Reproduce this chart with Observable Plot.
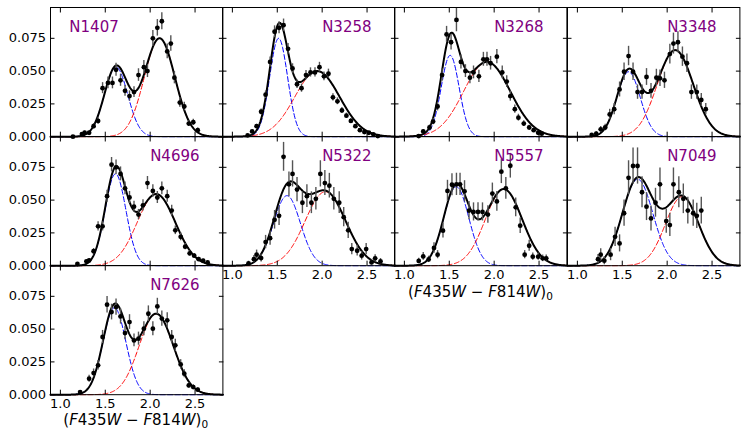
<!DOCTYPE html>
<html><head><meta charset="utf-8">
<script src="https://cdn.jsdelivr.net/npm/d3@7"></script>
<script src="https://cdn.jsdelivr.net/npm/@observablehq/plot@0.6"></script>
<style>
body{margin:0;background:#fff;}
#fig{position:relative;width:747px;height:438px;font-family:"DejaVu Sans",sans-serif;overflow:hidden;}
#fig svg{position:absolute;}
.xlabel{position:absolute;font-size:15px;line-height:12px;white-space:nowrap;transform:translateX(-50%);color:#000;}
.xlabel i{font-style:italic;}
.xlabel sub{font-size:70%;vertical-align:-0.3em;line-height:0;}
</style></head><body><div id="fig"></div>
<script>
// ---- data ----
const clusters = ["N1407","N3258","N3268","N3348","N4696","N5322","N5557","N7049","N7626"];
const xTicks = [1.0, 1.5, 2.0, 2.5];
const yTicks = [0, 0.025, 0.05, 0.075];

// Gaussian fit parameters (blue = first, red = second component)
const blueMu  = [1.62, 1.515, 1.51, 1.57, 1.614, 1.608, 1.578, 1.671, 1.602];
const blueSig = [0.13, 0.10, 0.10, 0.13, 0.116, 0.15, 0.14, 0.169, 0.128];
const blueAmp = [0.053, 0.075, 0.062, 0.0495, 0.070, 0.0534, 0.0602, 0.066, 0.0663];
const redMu   = [2.105, 1.945, 1.92, 2.09, 2.068, 2.036, 2.107, 2.166, 2.068];
const redSig  = [0.17, 0.25, 0.26, 0.20, 0.212, 0.225, 0.205, 0.185, 0.19];
const redAmp  = [0.075, 0.050, 0.057, 0.066, 0.0546, 0.0564, 0.0584, 0.0526, 0.0617];

const n1407X = [1.14,1.24,1.27,1.32,1.37,1.42,1.47,1.53,1.58,1.62,1.67,1.72,1.77,1.82,1.87,1.93,1.97,2.03,2.08,2.13,2.19,2.23,2.27,2.33,2.38,2.43,2.48,2.53];
const n1407Y = [0.000,0.002,0.003,0.003,0.008,0.012,0.037,0.041,0.041,0.051,0.043,0.035,0.031,0.034,0.047,0.053,0.050,0.075,0.083,0.088,0.065,0.071,0.045,0.026,0.023,0.010,0.011,0.005];
const n1407E = [0.0005,0.001,0.0012,0.0012,0.002,0.0025,0.0042,0.0045,0.0045,0.005,0.0046,0.0041,0.0039,0.0041,0.0048,0.0051,0.0049,0.006,0.0063,0.0065,0.0056,0.0059,0.0047,0.0036,0.0033,0.0022,0.0023,0.0016];

const n3258X = [1.17,1.22,1.27,1.32,1.37,1.42,1.47,1.52,1.57,1.62,1.67,1.72,1.77,1.82,1.87,1.92,1.97,2.02,2.07,2.12,2.17,2.22,2.27,2.32,2.37,2.42,2.47,2.52,2.57,2.62];
const n3258Y = [0.001,0.004,0.008,0.019,0.032,0.057,0.080,0.083,0.085,0.067,0.052,0.040,0.037,0.047,0.049,0.049,0.053,0.046,0.048,0.030,0.027,0.020,0.016,0.012,0.008,0.005,0.0035,0.003,0.0018,0.0005];
const n3258E = [0.0005,0.001,0.0014,0.0022,0.0029,0.0038,0.0045,0.0046,0.0047,0.0041,0.0036,0.0032,0.0031,0.0035,0.0035,0.0035,0.0037,0.0034,0.0035,0.0028,0.0026,0.0023,0.002,0.0018,0.0014,0.0011,0.001,0.0009,0.0007,0.0004];

const n3268X = [1.16,1.21,1.28,1.32,1.37,1.42,1.47,1.52,1.58,1.63,1.68,1.73,1.77,1.83,1.88,1.92,1.96,2.03,2.09,2.14,2.18,2.23,2.27,2.33,2.39,2.44,2.49,2.53];
const n3268Y = [0.0005,0.004,0.007,0.0115,0.023,0.047,0.078,0.072,0.089,0.057,0.050,0.045,0.049,0.046,0.059,0.059,0.056,0.061,0.049,0.042,0.031,0.021,0.0145,0.010,0.007,0.005,0.003,0.0023];
const n3268E = [0.0005,0.0014,0.0018,0.0024,0.0033,0.0048,0.0061,0.0059,0.009,0.0053,0.0049,0.0047,0.0049,0.0047,0.0053,0.0053,0.0052,0.0054,0.0049,0.0045,0.0039,0.0032,0.0026,0.0022,0.0018,0.0016,0.0012,0.0011];

const n3348X = [1.16,1.21,1.26,1.31,1.36,1.41,1.47,1.52,1.57,1.62,1.67,1.72,1.77,1.82,1.88,1.92,1.97,2.03,2.07,2.12,2.17,2.22,2.27,2.33,2.38,2.43];
const n3348Y = [0.0013,0.0023,0.0056,0.007,0.017,0.021,0.036,0.0495,0.0615,0.0495,0.034,0.034,0.0455,0.035,0.045,0.0445,0.043,0.063,0.071,0.072,0.061,0.056,0.034,0.034,0.028,0.021];
const n3348E = [0.0011,0.0014,0.0022,0.0025,0.0039,0.0043,0.0057,0.0067,0.0074,0.0067,0.0055,0.0055,0.0064,0.0056,0.0064,0.0063,0.0062,0.0075,0.008,0.008,0.0074,0.0071,0.0055,0.0055,0.005,0.0043];

const n4696X = [1.19,1.29,1.32,1.37,1.42,1.47,1.52,1.57,1.62,1.67,1.72,1.77,1.82,1.87,1.92,1.97,2.03,2.08,2.13,2.19,2.24,2.28,2.34,2.39,2.44,2.49,2.54,2.59,2.64];
const n4696Y = [0.0013,0.0033,0.004,0.011,0.030,0.030,0.053,0.077,0.075,0.070,0.059,0.052,0.045,0.039,0.046,0.063,0.057,0.052,0.059,0.053,0.042,0.027,0.022,0.0145,0.0094,0.0076,0.005,0.0038,0.0025];
const n4696E = [0.0007,0.0011,0.0013,0.0021,0.0035,0.0035,0.0046,0.0055,0.0055,0.0053,0.0049,0.0046,0.0042,0.0039,0.0043,0.005,0.0048,0.0046,0.0049,0.0046,0.0041,0.0033,0.003,0.0024,0.0019,0.0017,0.0014,0.0012,0.001];

const n5322X = [1.18,1.24,1.27,1.32,1.37,1.42,1.47,1.52,1.57,1.63,1.67,1.72,1.78,1.83,1.88,1.93,1.98,2.03,2.08,2.13,2.19,2.24,2.29,2.33,2.39,2.44,2.49,2.55,2.59,2.65];
const n5322Y = [0.0018,0.005,0.0084,0.0058,0.018,0.021,0.035,0.038,0.083,0.062,0.070,0.058,0.048,0.053,0.048,0.051,0.070,0.063,0.061,0.051,0.048,0.037,0.027,0.0127,0.0114,0.0076,0.0127,0.0025,0.0056,0.0033];
const n5322E = [0.0016,0.0027,0.0035,0.0029,0.0051,0.0055,0.0071,0.0074,0.011,0.0095,0.01,0.0092,0.0083,0.0087,0.0083,0.0086,0.01,0.0095,0.0094,0.0086,0.0083,0.0073,0.0062,0.0043,0.0041,0.0033,0.0043,0.0019,0.0028,0.0022];

const n5557X = [1.16,1.21,1.27,1.33,1.37,1.43,1.48,1.53,1.58,1.62,1.67,1.72,1.77,1.82,1.87,1.93,1.98,2.03,2.08,2.13,2.18,2.24,2.29,2.34,2.39,2.43,2.49,2.54,2.58];
const n5557Y = [0.0036,0.0071,0.0048,0.0135,0.0084,0.0267,0.057,0.0617,0.062,0.062,0.0567,0.042,0.041,0.041,0.041,0.039,0.055,0.049,0.0717,0.059,0.0762,0.0445,0.0305,0.0084,0.0152,0.0069,0.0069,0.0056,0.0056];
const n5557E = [0.002,0.0029,0.0024,0.004,0.0031,0.0056,0.0081,0.0084,0.0085,0.0085,0.0081,0.007,0.0069,0.0069,0.0069,0.0067,0.008,0.0075,0.0091,0.0083,0.0094,0.0072,0.0059,0.0031,0.0042,0.0028,0.0028,0.0025,0.0025];

const n7049X = [1.23,1.26,1.30,1.37,1.42,1.47,1.52,1.57,1.62,1.67,1.72,1.77,1.82,1.87,1.92,1.99,2.03,2.07,2.13,2.18,2.23,2.29,2.33,2.38];
const n7049Y = [0.005,0.0084,0.0038,0.0084,0.022,0.017,0.040,0.067,0.076,0.076,0.056,0.045,0.036,0.048,0.062,0.034,0.031,0.062,0.056,0.051,0.042,0.040,0.038,0.042];
const n7049E = [0.0035,0.0046,0.0031,0.0046,0.0074,0.0065,0.01,0.013,0.0138,0.0138,0.0118,0.0106,0.0095,0.011,0.0125,0.0092,0.0088,0.0125,0.0118,0.0113,0.0102,0.01,0.0097,0.0102];

const n7626X = [1.22,1.32,1.37,1.42,1.47,1.52,1.57,1.62,1.67,1.72,1.77,1.82,1.87,1.93,1.98,2.03,2.08,2.13,2.19,2.24,2.28,2.34,2.38,2.43,2.48,2.53];
const n7626Y = [0.002,0.0122,0.0165,0.0224,0.044,0.0686,0.063,0.0668,0.0597,0.047,0.0554,0.0414,0.0427,0.0503,0.0617,0.0503,0.0673,0.058,0.0567,0.044,0.0376,0.0231,0.016,0.0071,0.0058,0.0038];
const n7626E = [0.0011,0.0027,0.0031,0.0036,0.005,0.0063,0.006,0.0062,0.0059,0.0052,0.0056,0.0049,0.005,0.0054,0.006,0.0054,0.0062,0.0058,0.0057,0.005,0.0047,0.0036,0.003,0.002,0.0018,0.0015];

const pointsX = [n1407X,n3258X,n3268X,n3348X,n4696X,n5322X,n5557X,n7049X,n7626X];
const pointsY = [n1407Y,n3258Y,n3268Y,n3348Y,n4696Y,n5322Y,n5557Y,n7049Y,n7626Y];
const pointsE = [n1407E,n3258E,n3268E,n3348E,n4696E,n5322E,n5557E,n7049E,n7626E];

// ---- layout ----
const X_DOMAIN = [0.89, 2.81], Y_DOMAIN = [0, 0.0985];
const PW = 172.4, PH = 129.2, M = 50;
const LEFT0 = 49.5, TOP0 = 6.8;
const fig = document.getElementById("fig");
const grid = d3.range(X_DOMAIN[0], X_DOMAIN[1] + 1e-9, 0.005);
const gauss = (mu, s, a) => x => a * Math.exp(-((x - mu) ** 2) / (2 * s * s));

function panel(i) {
  const col = i % 4, row = Math.floor(i / 4);
  const showY = col === 0;
  const showX = (row === 1 && col > 0) || row === 2;
  const pts = pointsX[i].map((x, k) => ({x, y: pointsY[i][k], e: pointsE[i][k]}));
  const fb = gauss(blueMu[i], blueSig[i], blueAmp[i]);
  const fr = gauss(redMu[i], redSig[i], redAmp[i]);
  const curve = grid.map(x => ({x, b: fb(x), r: fr(x), t: fb(x) + fr(x)}));
  const tickOpts = {tickSize: -4.5, fill: "none", label: null};
  const marks = [
    Plot.line(curve, {x: "x", y: "b", stroke: "#0000ff", strokeWidth: 1, strokeDasharray: "5,2.5"}),
    Plot.line(curve, {x: "x", y: "r", stroke: "#ff0000", strokeWidth: 1, strokeDasharray: "5,2.5"}),
    Plot.line(curve, {x: "x", y: "t", stroke: "#000", strokeWidth: 2}),
    Plot.ruleX(pts, {x: "x", y1: d => d.y - d.e, y2: d => d.y + d.e, stroke: "#555", strokeWidth: 1.4}),
    Plot.dot(pts, {x: "x", y: "y", r: 2.4, fill: "#000", stroke: "none"}),
    Plot.frame({stroke: "#000", strokeWidth: 1}),
    Plot.axisX({anchor: "bottom", ticks: xTicks, ...tickOpts}),
    Plot.axisX({anchor: "top", ticks: xTicks, ...tickOpts}),
    Plot.axisY({anchor: "left", ticks: yTicks, ...tickOpts}),
    Plot.axisY({anchor: "right", ticks: yTicks, ...tickOpts}),
    Plot.text([clusters[i]], {x: i === 0 ? 1.1 : 2.0, y: 0.08, text: d => d, textAnchor: "start", lineAnchor: "bottom", fill: "#800080", fontSize: 15})
  ];
  if (showY) marks.push(Plot.axisY({anchor: "left", ticks: yTicks, tickSize: 0, tickPadding: 4.5, tickFormat: d3.format(".3f"), fontSize: 13, label: null}));
  if (showX) marks.push(Plot.axisX({anchor: "bottom", ticks: xTicks, tickSize: 0, tickPadding: 4, tickFormat: d3.format(".1f"), fontSize: 13, label: null}));
  const svg = Plot.plot({
    width: PW + 2 * M, height: PH + 2 * M,
    marginLeft: M, marginRight: M, marginTop: M, marginBottom: M,
    x: {domain: X_DOMAIN, axis: null},
    y: {domain: Y_DOMAIN, axis: null},
    style: {background: "transparent", overflow: "visible", fontFamily: "DejaVu Sans", fontSize: "13px", color: "#000"},
    marks
  });
  svg.style.left = (LEFT0 + col * PW - M) + "px";
  svg.style.top = (TOP0 + row * PH - M) + "px";
  fig.appendChild(svg);
}
clusters.forEach((_, i) => panel(i));

function xlabel(cx, top) {
  const d = document.createElement("div");
  d.className = "xlabel";
  d.innerHTML = "(<i>F</i>435<i>W</i> − <i>F</i>814<i>W</i>)<sub>0</sub>";
  d.style.left = cx + "px";
  d.style.top = top + "px";
  fig.appendChild(d);
}
xlabel(LEFT0 + 2 * PW + PW / 2, 285.5);
xlabel(LEFT0 + PW / 2, 414);
</script>
</body></html>
